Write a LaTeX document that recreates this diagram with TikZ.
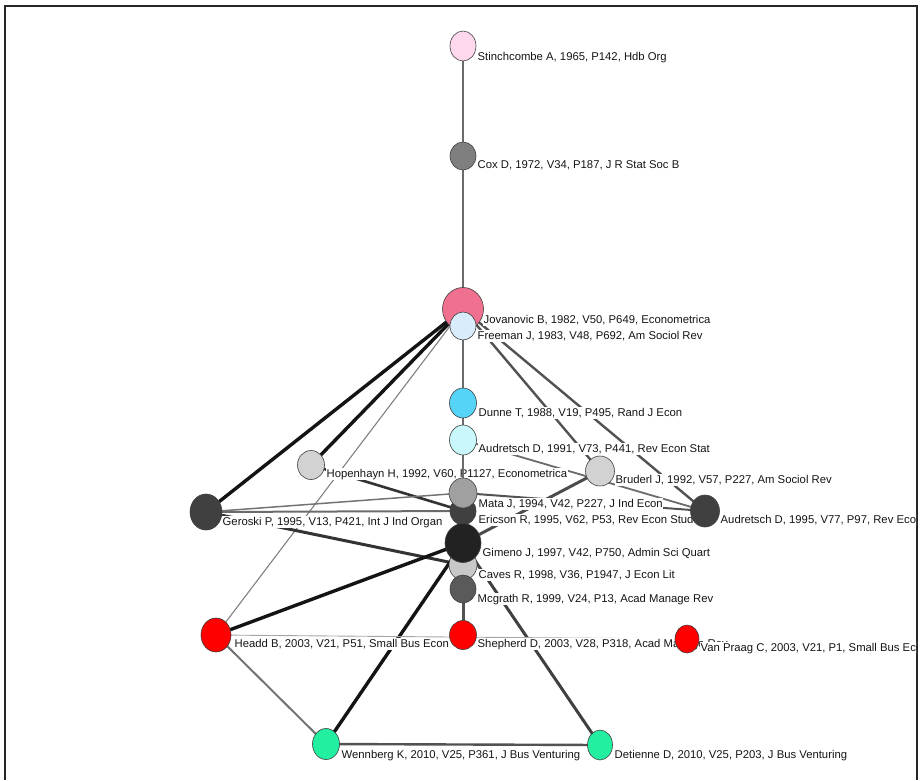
\documentclass[tikz,border=0pt]{standalone}
\usepackage{fontspec}
\setmainfont{Liberation Sans}
\usetikzlibrary{shapes.geometric}
\definecolor{cPinkL}{HTML}{FFD8EE}
\definecolor{cCox}{HTML}{7F7F7F}
\definecolor{cJov}{HTML}{F0708F}
\definecolor{cFree}{HTML}{D8ECFC}
\definecolor{cDun}{HTML}{55D4F8}
\definecolor{cAud}{HTML}{C8F8FC}
\definecolor{cLG}{HTML}{D2D2D2}
\definecolor{cMata}{HTML}{A0A0A0}
\definecolor{cDark}{HTML}{404040}
\definecolor{cGim}{HTML}{222222}
\definecolor{cCav}{HTML}{C8C8C8}
\definecolor{cMcg}{HTML}{5A5A5A}
\definecolor{cRed}{HTML}{FF0000}
\definecolor{cGrn}{HTML}{22F0A0}
\definecolor{cTxt}{HTML}{151515}
\tikzset{
  nd/.style n args={3}{ellipse, draw=black!75, line width=0.6pt, fill=#3,
    minimum width=#1pt, minimum height=#2pt, inner sep=0pt},
  lbl/.style={anchor=west, fill=white, inner xsep=0.5pt, inner ysep=1pt, text=cTxt,
    font=\fontsize{11.3}{12}\selectfont, yshift=-1.2pt},
  eg/.style={line width=#1, draw=black!58},
  eg/.default=2.8pt,
  edark/.style={line width=#1, draw=black!80},
  edark/.default=3pt,
  eblack/.style={line width=3.4pt, draw=black!92},
  ethin/.style={line width=1.1pt, draw=black!50},
}
\begin{document}
\begin{tikzpicture}[x=1pt,y=-1pt]
\useasboundingbox (0,0) rectangle (921,780);
% frame
\draw[line width=1.6pt, black!85] (5,780) -- (5,6) -- (917,6) -- (917,780);

% node coordinates
\coordinate (pStin) at (463,46);
\coordinate (pCox) at (463,156);
\coordinate (pJov) at (463,309);
\coordinate (pFree) at (463,326);
\coordinate (pDun) at (463,403);
\coordinate (pAudA) at (463,440);
\coordinate (pHop) at (311,465);
\coordinate (pBru) at (600,471);
\coordinate (pMata) at (463,493);
\coordinate (pEric) at (463,511);
\coordinate (pGer) at (206,512);
\coordinate (pAudB) at (705,511);
\coordinate (pGim) at (463,543);
\coordinate (pCav) at (463,565);
\coordinate (pMcg) at (463,589);
\coordinate (pShep) at (463,635);
\coordinate (pVan) at (687,639);
\coordinate (pHead) at (216,635);
\coordinate (pWenn) at (326,744);
\coordinate (pDet) at (600,745);

% edges (drawn under labels and nodes)
\draw[eg] (pStin) -- (pCox);
\draw[eg] (pCox) -- (pJov);
\draw[eg] (pFree) -- (pDun);
\draw[eg] (pDun) -- (pAudA);
\draw[eblack] (pJov) -- (pGer);
\draw[eblack] (pJov) -- (pHop);
\draw[ethin] (pJov) -- (pHead);
\draw[eg=2.4pt, draw=black!68] (pJov) -- (pBru);
\draw[eg=2.4pt, draw=black!68] (pJov) -- (pAudB);
\draw[eg=1.8pt] (pAudA) -- (pAudB);
\draw[eg=2pt, draw=black!68] (pMata) -- (pAudB);
\draw[edark=2.6pt] (pHop) -- (pEric);
\draw[eg=1.5pt, draw=black!55] (pGer) -- (pMata);
\draw[eg=2pt] (pGer) -- (pEric);
\draw[edark=3pt] (pGer) -- (pCav);
\draw[eg=3pt, draw=black!70] (pBru) -- (pGim);
\draw[eblack] (pHead) -- (pGim);
\draw[eblack] (pWenn) -- (pGim);
\draw[edark=3pt, draw=black!75] (pGim) -- (pDet);
\draw[eg=2pt, draw=black!55] (pHead) -- (pWenn);
\draw[eg=2.4pt, draw=black!68] (pWenn) -- (pDet);
\draw[eg=3pt, draw=black!68] (pMcg) -- (pShep);
\draw[line width=0.9pt, draw=black!35] (pHead) -- (pVan);
\draw[eg] (pMata) -- (pGim);

% labels
\begin{scope}
\clip (0,0) rectangle (916,780);
\node[lbl] (lStin) at (477,56) {Stinchcombe A, 1965, P142, Hdb Org};
\node[lbl] (lCox) at (477,164) {Cox D, 1972, V34, P187, J R Stat Soc B};
\node[lbl] (lJov) at (483,319) {Jovanovic B, 1982, V50, P649, Econometrica};
\node[lbl] (lFree) at (477,335) {Freeman J, 1983, V48, P692, Am Sociol Rev};
\node[lbl] (lDun) at (478,412) {Dunne T, 1988, V19, P495, Rand J Econ};
\node[lbl] (lAudA) at (478,448) {Audretsch D, 1991, V73, P441, Rev Econ Stat};
\node[lbl] (lHop) at (326,473) {Hopenhayn H, 1992, V60, P1127, Econometrica};
\node[lbl] (lBru) at (615,479) {Bruderl J, 1992, V57, P227, Am Sociol Rev};
\node[lbl] (lMata) at (478,503) {Mata J, 1994, V42, P227, J Ind Econ};
\node[lbl] (lEric) at (478,519) {Ericson R, 1995, V62, P53, Rev Econ Stud};
\node[lbl] (lGer) at (222,521) {Geroski P, 1995, V13, P421, Int J Ind Organ};
\node[lbl] (lAudB) at (720,519) {Audretsch D, 1995, V77, P97, Rev Econ Stat};
\node[lbl] (lGim) at (482,552) {Gimeno J, 1997, V42, P750, Admin Sci Quart};
\node[lbl] (lCav) at (478,574) {Caves R, 1998, V36, P1947, J Econ Lit};
\node[lbl] (lMcg) at (477,598) {Mcgrath R, 1999, V24, P13, Acad Manage Rev};
\node[lbl] (lHead) at (234,643) {Headd B, 2003, V21, P51, Small Bus Econ};
\node[lbl] (lShep) at (477,643) {Shepherd D, 2003, V28, P318, Acad Manage Rev};
\node[lbl] (lVan) at (700,647) {Van Praag C, 2003, V21, P1, Small Bus Econ};
\node[lbl] (lWenn) at (341,754) {Wennberg K, 2010, V25, P361, J Bus Venturing};
\node[lbl] (lDet) at (614,754) {Detienne D, 2010, V25, P203, J Bus Venturing};
\end{scope}

% edge drawn over a label
\draw[eg] (pAudA) -- (pMata);

% nodes
\node[nd={26}{30}{cPinkL}] (Stin) at (pStin) {};
\node[nd={26}{28}{cCox}] (Cox) at (pCox) {};
\node[nd={41}{43}{cJov}] (Jov) at (pJov) {};
\node[nd={26}{28}{cFree}] (Free) at (pFree) {};
\node[nd={27}{30}{cDun}] (Dun) at (pDun) {};
\node[nd={27}{30}{cAud}] (AudA) at (pAudA) {};
\node[nd={27}{29}{cLG}] (Hop) at (pHop) {};
\node[nd={29}{30}{cLG}] (Bru) at (pBru) {};
\node[nd={26}{28}{cDark}] (Eric) at (pEric) {};
\node[nd={28}{30}{cMata}] (Mata) at (pMata) {};
\node[nd={32}{36}{cDark}] (Ger) at (pGer) {};
\node[nd={29}{32}{cDark}] (AudB) at (pAudB) {};
\node[nd={28}{30}{cCav}] (Cav) at (pCav) {};
\node[nd={36}{39}{cGim}] (Gim) at (pGim) {};
\node[nd={26}{28}{cMcg}] (Mcg) at (pMcg) {};
\node[nd={27}{29}{cRed}] (Shep) at (pShep) {};
\node[nd={24}{28}{cRed}] (Van) at (pVan) {};
\node[nd={30}{34}{cRed}] (Head) at (pHead) {};
\node[nd={27}{31}{cGrn}] (Wenn) at (pWenn) {};
\node[nd={25}{30}{cGrn}] (Det) at (pDet) {};
\end{tikzpicture}
\end{document}
